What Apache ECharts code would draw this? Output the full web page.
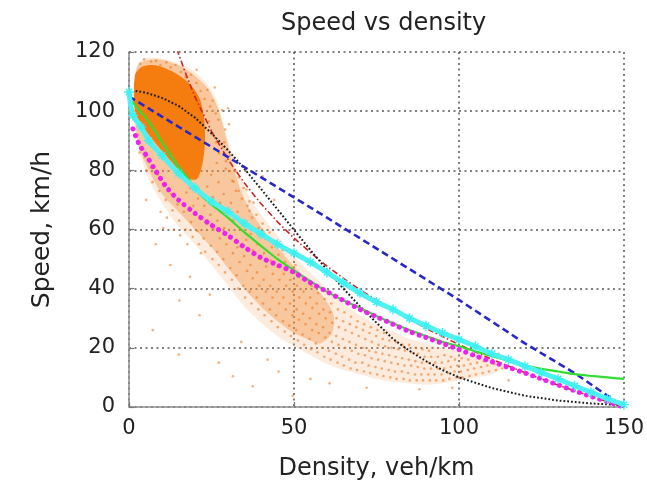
<!DOCTYPE html>
<html><head><meta charset="utf-8">
<script src="https://cdn.jsdelivr.net/npm/echarts@6/dist/echarts.min.js"></script>
<style>html,body{margin:0;padding:0;background:#fff}#c{width:647px;height:486px}</style>
</head><body><div id="c"></div>
<script>
// ---- data ----
const cloudCore = [[1.8,112],[4,115],[8,115.5],[12,114],[16,111.5],[19,108.5],[21.5,104],[22.8,97],[23,89],[22.2,82],[20.5,77],[17.5,77.5],[14,81.5],[10,86.5],[6,92],[3.5,96],[1.8,100]];
const cloudMid = [[2,110],[3,116],[9,117.5],[15,115.5],[20,112],[24,107.5],[27,101],[29,93],[31,84],[33,76],[36,68],[40,61],[45,54],[50,47.5],[55,42],[59,37],[62,31],[61.5,25],[58,21.5],
  [55,22.5],[50,25],[45,29],[40,34],[35,40],[30,47],[25,54],[20,60],[15,66],[10,72],[6,80],[3,88],[2,96]];
const cloudOuter = [[1.5,106],[1.8,113],[4,117.5],[9,118],[14,116.5],[19,114],[23,110],[26,105],[28,98],[30,90],[33,80],[36,72],[40,65],[45,58],[50,51],[55,45.5],[60,40],[65,35],[70,31],[75,28],[80,25.5],[85,23],[90,21.5],[95,20],[100,19],[105,18],[110,16],[113,13.5],
  [110,11],[105,10],[100,9],[95,8],[90,7.5],[85,8],[80,8.5],[75,9.5],[70,11],[65,12.5],[60,14.5],[55,17.5],[50,20.5],[45,24],[40,28.5],[35,34],[30,41],[25,48],[20,55],[15,61],[10,69],[6,77],[3,87],[1.5,97]];

const cloudDots = [
[1.4,103],[1.9,109],[2.6,113],[3.4,116],[4.6,117.5],[5.8,114.5],[6.7,116.8],[8.2,117],[9.5,115.5],[11.3,116.5],[12.6,114.8],[14.1,115.6],[15.7,113.2],[17.2,111.5],[18.8,112.3],[20.4,109.5],[21.7,106.8],[22.9,104.1],[23.8,107.2],[24.6,101.6],[25.4,103.5],[26.3,99.2],[27.1,97.1],[28.2,100.4],[29.1,93.8],[30.3,95.6],[24.2,96.5],[25.1,92.2],[26.4,89.5],[27.3,85.8],[28.4,87.9],[29.4,83.1],[30.6,79.8],[31.7,76.2],[32.4,73.1],[33.3,77.6],[34.2,70.4],[35.6,73.5],[36.5,66.3],[37.8,69.1],
[7.2,26],[15.3,36],[15.1,17.7],[21.4,31],[8.1,55],[5.2,70],[10.4,60.5],[31.5,10.4],[37.5,7],[27.2,15],[45.3,12],[60.8,8],[49.6,3.8],[12.5,48],[18.5,44],[24.5,38],[34,22],[42,16],[55,9.5],[72,6.5],[88,6],[98,6.5],[115,9],[118,15],[112,18],[40.5,78],[44,70],[30,101],[26,108],[20.5,114],
[3.2,86],[2.7,92],[5.3,80],[4.8,84.5],[7.1,76],[6.6,81],[9.2,73],[8.7,78.5],[9.6,66],[11.1,70],[10.6,75.5],[11.5,64],[13.2,66.5],[12.8,72],[13.6,60],[15.2,63],[14.7,68.5],[15.5,58],
[17.1,60],[16.6,66],[17.4,72.5],[17.7,55],[19.3,57.5],[18.8,62.5],[19.5,68],[18.6,74],[21.2,55],[20.7,59.5],[21.6,64.5],[20.9,70.5],[21.8,52],
[23.1,52.5],[22.6,57],[23.5,62],[22.8,68],[23.7,74.5],[25.3,50],[24.8,54.5],[25.6,60],[24.7,65],[25.4,71],[24.9,78.5],
[27.2,48],[26.7,52.5],[27.5,57],[26.8,63],[27.6,69],[27.1,76],[26.6,82.5],[29.1,45.5],[28.6,50],[29.5,55],[28.8,60.5],[29.6,66],[28.7,72],[29.3,80.5],[28.9,89.5],
[31.2,43],[30.7,47],[31.5,52],[30.8,57.5],[31.6,63],[30.9,69],[31.3,76.5],[30.6,85],[33.1,40],[32.6,44.5],[33.5,49],[32.8,54],[33.6,60],[32.9,66],[33.2,73],[32.5,79.5],
[35.2,37],[34.6,41],[35.8,46],[34.9,51],[35.5,56.5],[34.3,62],[35.9,68],[34.7,74],[37.1,35],[36.6,39],[37.5,43.5],[36.8,48],[37.6,53],[36.9,58.5],[37.3,64],[36.5,69.5],
[39.2,33],[38.7,37],[39.5,41],[38.8,45.5],[39.6,50],[38.9,55],[39.3,60.5],[38.6,65],[41.1,31],[40.6,35],[41.5,39],[40.8,43],[41.6,47.5],[40.9,52],[41.3,57],[40.5,62],
[43.2,29],[42.7,33],[43.5,37],[42.8,41],[43.6,45],[42.9,49.5],[43.3,54],[42.6,59],[45.1,27],[44.6,31],[45.5,35],[44.8,39],[45.6,43],[44.9,47.5],[45.3,51.5],[44.5,56],
[47.2,25.5],[46.7,29],[47.5,33],[46.8,37],[47.6,41],[46.9,45],[47.3,49],[46.5,53],[49.1,24],[48.6,27.5],[49.5,31],[48.8,35],[49.6,39],[48.9,43],[49.3,47],
[51.2,22.5],[50.7,26],[51.5,29.5],[50.8,33],[51.6,37],[50.9,41],[51.3,45],[50.5,48],[53.1,21],[52.6,24.5],[53.5,28],[52.8,31.5],[53.6,35],[52.9,39],[53.3,43],
[55.2,19.5],[54.7,23],[55.5,26],[54.8,30],[55.6,33.5],[54.9,37],[55.3,41],[57.1,18.5],[56.6,21.5],[57.5,25],[56.8,28],[57.6,31.5],[56.9,35],[57.3,38.5],
[59.2,17],[58.7,20],[59.5,23.5],[58.8,27],[59.6,30],[58.9,33],[59.3,36.5],[61.1,16],[60.6,19],[61.5,22],[60.8,25],[61.6,28.5],[60.9,32],[61.3,35],
[63.2,15],[62.7,18],[63.5,21],[62.8,24],[63.6,27],[62.9,30],[63.3,33],[65.1,14],[64.6,17],[65.5,20],[64.8,23],[65.6,26],[64.9,29],[65.3,32],
[67.2,13],[66.7,16],[67.5,19],[66.8,22],[67.6,25],[66.9,28],[67.3,30.5],[69.1,12.5],[68.6,15],[69.5,18],[68.8,21],[69.6,24],[68.9,27],[69.3,29],
[71.2,12],[70.7,15],[71.5,17.5],[70.8,20],[71.6,23],[70.9,26],[71.3,28],[73.1,11.5],[72.6,14],[73.5,16.5],[72.8,19],[73.6,22],[72.9,25],[73.3,27],
[75.2,11],[74.7,13.5],[75.5,16],[74.8,18.5],[75.6,21],[74.9,24],[75.3,26],[77.1,10.5],[76.6,13],[77.5,15.5],[76.8,18],[77.6,20.5],[76.9,23],[77.3,25],
[79.2,10],[78.7,12.5],[79.5,15],[78.8,17.5],[79.6,20],[78.9,22.5],[81.1,9.5],[80.6,12],[81.5,14.5],[80.8,17],[81.6,19.5],[80.9,22],
[83.2,9.5],[82.7,12],[83.5,14],[82.8,16.5],[83.6,19],[82.9,21],[85.1,9],[84.6,11.5],[85.5,14],[84.8,16],[85.6,18.5],[84.9,21],
[87.2,9],[86.7,11],[87.5,13.5],[86.8,15.5],[87.6,18],[86.9,20],[89.1,9],[88.6,11],[89.5,13],[88.8,15],[89.6,17],[88.9,19.5],
[91.2,9],[90.7,11],[91.5,13],[90.8,15],[91.6,17],[90.9,19],[93.1,9],[92.6,11],[93.5,13],[92.8,15],[93.6,17],
[95.2,9],[94.7,11],[95.5,13],[94.8,15],[95.6,17.5],[97.1,9.5],[96.6,11.5],[97.5,13.5],[96.8,15.5],[97.6,17],
[99.2,10],[98.7,12],[99.5,14],[98.8,16],[101.1,10],[100.6,12],[101.5,14],[100.8,16.5],[103.2,10.5],[102.7,12.5],[103.5,14.5],[102.8,16],
[105.1,11],[104.6,13],[105.5,15],[107.2,11.5],[106.7,13.5],[107.5,15.5],[109.1,12],[108.6,14],[111.2,12.5],[110.7,14.5],[113.1,13]
];

const redCurve = [[14.5,121],[17,113.2],[20,104.8],[25,93.2],[30,83.7],[35,75.7],[40,68.7],[45,62.6],[50,57.1],[55,52.2],[60,47.6],[65,43.5],[70,39.6],[80,32.7],[90,26.6],[100,21.1],[110,16.1],[120,11.6],[130,7.4],[140,3.6],[150,0]];
const blackCurve = [[2,106.8],[5,106.3],[10,104.5],[15,101.8],[20,97.8],[25,92.5],[30,86.8],[35,80.5],[40,73.7],[45,66.8],[50,59.9],[55,53],[60,46.4],[65,40],[70,34],[75,28.5],[80,23],[85,19],[90,15.5],[95,12.5],[100,10],[110,6.4],[120,3.8],[130,2.2],[140,1.2],[150,0.6]];
const blueCurve = [[0,105],[30,84.5],[60,64],[100,36.2],[120,21.5],[135,11.5],[150,0]];
const greenCurve = [[0,104.5],[3,100.5],[6,96.5],[10,89.5],[14.3,82.3],[18,77],[21.4,72],[25,68.5],[30,64],[35,59],[40,54.5],[45,50],[50,46.2],[55,42.5],[60,39],[65,36],[70,33.5],[75,30.8],[80,28.3],[85,26],[90,24],[95,22],[100,20.5],[105,18.8],[110,17.2],[115,15.6],[120,14.1],[125,12.9],[130,12],[135,11.1],[140,10.5],[145,10],[150,9.5]];
const magentaCurve = [[1.2,94],[3,89],[5,85.5],[8,80],[11.3,74.4],[15,70],[20,65.5],[25,61.5],[30,58],[35,54],[40,50.5],[45,48],[50,45.5],[55,42],[60,39],[65,36],[70,33],[75,30.5],[80,28],[85,25.5],[90,23.5],[95,21.5],[100,19.4],[105,17.3],[110,15.3],[115,13.4],[120,11.5],[125,9.5],[130,7.5],[135,5.5],[140,3.6],[145,1.8],[150,0]];
const cyanCurve = [[0,106.5],[1.2,98.6],[3.7,94.7],[6,90],[10,85],[15,79],[20,74],[25,69.5],[30,66],[35,62],[40,58.5],[45,55],[50,52],[55,49],[60,45.5],[65,42],[70,38.5],[75,35.5],[80,33],[85,30],[90,27.5],[95,25],[100,22.8],[105,20.5],[110,18],[115,16],[120,13.8],[125,11.6],[130,9.5],[135,7.2],[140,5],[145,2.8],[150,0.8]];

// ---- styling ----
const cloudPolys = [cloudOuter, cloudMid, cloudCore];
const cloudFills = ['rgba(246,165,100,0.22)', 'rgba(242,135,45,0.36)', 'rgb(245,125,15)'];
const FONT = 'DejaVu Sans';
const star = 'path://M4.3,0H5.7V4.3H10V5.7H5.7V10H4.3V5.7H0V4.3H4.3Z M1.3,2.3L2.3,1.3L8.7,7.7L7.7,8.7Z M7.7,1.3L8.7,2.3L2.3,8.7L1.3,7.7Z';

const chart = echarts.init(document.getElementById('c'), null, {renderer: 'canvas'});
const gridLine = {show: true, lineStyle: {color: '#555', width: 1.5, type: [2, 3.5]}};
const axisLine = {show: true, onZero: false, lineStyle: {color: '#8c8c8c', width: 1.5}};
const axisTick = {show: true, inside: true, length: 5, lineStyle: {color: '#777', width: 1.2}};
chart.setOption({
  animation: false,
  backgroundColor: '#fff',
  title: {text: 'Speed vs density', left: 276, top: 7,
    textStyle: {fontFamily: FONT, fontSize: 24, fontWeight: 'normal', color: '#222'}},
  grid: {left: 129, right: 22, top: 52, bottom: 79, containLabel: false},
  xAxis: {type: 'value', min: 0, max: 150, interval: 50,
    name: 'Density, veh/km', nameLocation: 'middle', nameGap: 50,
    nameTextStyle: {fontFamily: FONT, fontSize: 24, color: '#222'},
    axisLine: axisLine, axisTick: axisTick, splitLine: gridLine,
    axisLabel: {margin: 11, fontFamily: FONT, fontSize: 21, color: '#222'}},
  yAxis: {type: 'value', min: 0, max: 120, interval: 20,
    name: 'Speed, km/h', nameLocation: 'middle', nameGap: 74,
    nameTextStyle: {fontFamily: FONT, fontSize: 25, color: '#222'},
    axisLine: axisLine, axisTick: axisTick, splitLine: gridLine,
    axisLabel: {margin: 14, fontFamily: FONT, fontSize: 21, color: '#222'}},
  series: [
    {type: 'custom', silent: true, clip: true, data: cloudPolys.map((p, i) => [i]),
     renderItem: function (params, api) {
       const pts = cloudPolys[params.dataIndex].map(p => api.coord(p));
       return {type: 'polygon', shape: {points: pts, smooth: 0.3}, style: {fill: cloudFills[params.dataIndex]}};
     }},
    {type: 'scatter', silent: true, data: cloudDots, symbolSize: 2.6,
     itemStyle: {color: 'rgba(236,118,30,0.72)'}},
    {type: 'line', data: redCurve, showSymbol: false, clip: true,
     lineStyle: {color: '#d02424', width: 1.6, type: [6, 2.5, 1.5, 2.5]}},
    {type: 'line', data: blackCurve, showSymbol: false,
     lineStyle: {color: '#1e1e1e', width: 2, type: [1.8, 2]}},
    {type: 'line', data: blueCurve, showSymbol: false,
     lineStyle: {color: '#2828c8', width: 2.6, type: [7, 4]}},
    {type: 'line', data: greenCurve, showSymbol: false, smooth: 0.3,
     lineStyle: {color: '#33dd33', width: 2.2}},
    {type: 'line', data: magentaCurve, showSymbol: false, smooth: 0.3,
     lineStyle: {color: '#ee22ee', width: 5, type: [0.1, 7], cap: 'round'}},
    {type: 'line', data: cyanCurve, smooth: 0.3, showSymbol: true, symbol: star, symbolSize: 10,
     itemStyle: {color: '#3ff0f0'},
     lineStyle: {color: '#4ef2f2', width: 5}}
  ]
});
</script></body></html>
